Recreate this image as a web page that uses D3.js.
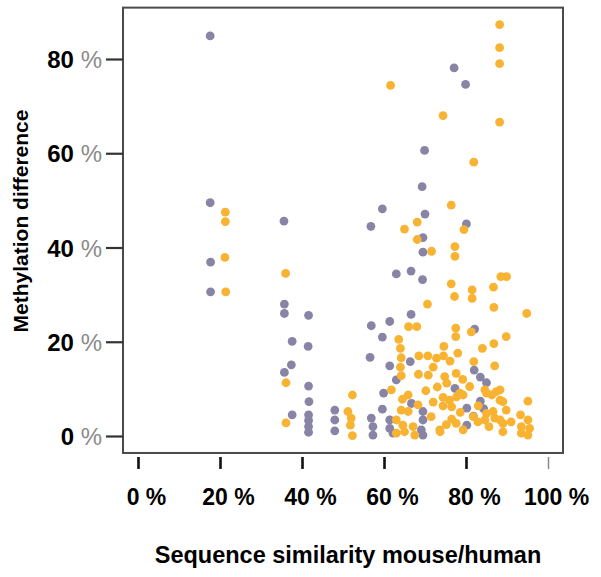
<!DOCTYPE html>
<html>
<head>
<meta charset="utf-8">
<script src="https://cdn.jsdelivr.net/npm/d3@7"></script>
<style>
  body { margin: 0; background: #fff; }
  svg { display: block; font-family: "Liberation Sans", Arial, sans-serif; }
</style>
</head>
<body>
<div id="chart"></div>
<script>
// values, [similarity %, methylation difference %]
const xTicks = [0, 20, 40, 60, 80, 100];
const yTicks = [0, 20, 40, 60, 80];

const grayPoints = [
  [17.6, 84.9], [17.6, 49.5], [17.7, 36.9], [17.7, 30.6],
  [35.6, 45.6], [35.7, 28.0], [35.7, 26.0], [41.6, 25.6], [37.6, 20.1], [41.5, 19.0],
  [37.4, 15.1], [35.7, 13.5], [41.6, 10.6], [41.7, 7.3], [37.6, 4.5],
  [41.6, 4.5], [41.6, 3.3], [41.6, 2.0], [41.6, 0.8],
  [48.0, 5.5], [48.0, 3.4], [48.0, 1.1],
  [56.9, 23.4], [61.4, 24.3], [59.6, 21.0], [56.6, 16.7],
  [63.0, 34.4], [66.6, 35.0], [69.4, 33.2], [66.6, 25.8], [69.5, 42.1], [69.5, 39.0],
  [77.1, 78.1], [79.9, 74.6], [69.9, 60.6], [69.3, 52.9], [59.6, 48.2], [70.0, 47.1],
  [56.8, 44.5], [80.1, 45.0], [82.1, 22.7],
  [61.4, 14.9], [66.4, 15.8], [63.0, 11.9], [59.9, 9.1], [66.7, 6.9], [59.6, 5.7],
  [69.5, 5.2], [56.9, 3.8], [57.3, 2.0], [57.3, 0.2], [61.4, 3.4], [61.4, 1.6],
  [62.2, 0.6], [69.5, 3.4], [69.1, 1.3], [69.5, 0.2],
  [77.3, 10.1], [80.2, 5.9], [83.5, 7.4], [80.2, 2.3], [81.8, 4.2],
  [82.0, 14.0], [83.5, 12.5], [85.0, 11.3], [84.3, 5.8]
];

const orangePoints = [
  [21.3, 47.5], [21.3, 45.5], [21.2, 37.9], [21.4, 30.6],
  [36.0, 34.5], [36.1, 11.3], [36.1, 2.8],
  [52.3, 8.7], [51.2, 5.2], [52.0, 3.8], [51.8, 2.3], [52.3, 0.1],
  [88.2, 87.3], [88.2, 82.4], [88.2, 79.0], [61.6, 74.4], [74.4, 68.0], [88.2, 66.6],
  [81.9, 58.1], [76.4, 49.0], [68.1, 45.4], [79.5, 43.8], [65.0, 43.9],
  [77.3, 40.2], [77.3, 38.1], [71.6, 39.2], [68.1, 41.7],
  [88.5, 33.8], [89.9, 33.8], [86.7, 31.6], [81.5, 31.0], [76.4, 32.3],
  [77.2, 29.6], [81.5, 29.2], [86.8, 27.3], [94.8, 26.0], [70.6, 28.0],
  [66.0, 23.2], [68.0, 23.2], [81.3, 22.1], [77.5, 22.9], [77.5, 21.1],
  [89.8, 21.1], [86.8, 19.6], [84.0, 18.6], [87.0, 14.9], [81.9, 15.8],
  [85.0, 9.1], [87.4, 9.4], [88.3, 7.6], [95.1, 7.4], [77.6, 13.3], [78.0, 17.6],
  [80.9, 10.5], [79.3, 8.7], [89.0, 7.3], [89.8, 5.5], [86.6, 5.2], [87.0, 3.8],
  [89.0, 2.7], [89.0, 0.9], [84.6, 3.4], [82.9, 3.0], [77.6, 2.7], [79.3, 1.3],
  [93.3, 4.5], [95.1, 3.4], [93.5, 2.0], [95.5, 1.6], [95.1, 0.2], [93.5, 0.6],
  [63.6, 20.5], [64.0, 18.6], [64.2, 16.6], [64.0, 14.6], [64.2, 12.8],
  [68.5, 17.0], [70.7, 17.0], [72.8, 16.5], [74.5, 17.0], [76.1, 15.9], [74.6, 19.0],
  [68.4, 13.1], [70.8, 12.9], [74.8, 12.6], [75.3, 11.2],
  [74.4, 8.2], [76.0, 7.6], [74.4, 6.4], [61.8, 9.8], [65.9, 8.7], [64.5, 7.8],
  [64.2, 5.5], [65.9, 5.2], [68.3, 6.6], [71.5, 4.1],
  [63.0, 3.4], [64.6, 2.3], [63.0, 0.6], [65.0, 0.9], [67.1, 2.0], [67.5, 0.2],
  [73.6, 1.3], [77.7, 8.3], [78.5, 9.1], [76.5, 6.2], [73.7, 0.9],
  [85.0, 4.8], [88.3, 3.4], [81.8, 4.1], [86.3, 8.7], [88.3, 9.8], [84.6, 9.8],
  [72.0, 14.6], [73.0, 10.4], [79.2, 12.0], [72.0, 7.2], [70.2, 9.6],
  [76.5, 3.6], [75.2, 2.4], [83.0, 6.4], [85.6, 2.0], [91.0, 3.0], [78.6, 5.0]
];

const width = 601, height = 577;

// tick positions measured on the picture
var x = d3.scaleLinear().domain([0, 100]).range([138, 548]);
var y = d3.scaleLinear().domain([0, 80]).range([436, 59]);

var svg = d3.select("#chart")
  .append("svg")
    .attr("width", width)
    .attr("height", height);

// plot frame
var frame = {x0: x(-3.66), x1: x(103.66), y0: y(90.9), y1: y(-3.6)};
svg.append("rect")
  .attr("x", frame.x0)
  .attr("y", frame.y0)
  .attr("width", frame.x1 - frame.x0)
  .attr("height", frame.y1 - frame.y0)
  .attr("fill", "#fff")
  .attr("stroke", "#4a4a4a")
  .attr("stroke-width", 2);

// y axis
var yAxis = svg.append("g")
  .attr("transform", "translate(" + frame.x0 + ",0)")
  .call(d3.axisLeft(y).tickValues(yTicks).tickSize(17).tickFormat(d => d));
yAxis.select(".domain").remove();
yAxis.selectAll(".tick line").attr("stroke", "#333").attr("stroke-width", 2.2);
yAxis.selectAll(".tick text")
  .attr("x", -21)
  .attr("dy", "0.36em")
  .attr("fill", "#000")
  .style("font-size", "24px")
  .style("font-weight", "bold")
  .text(null)
  .each(function(d) {
    var t = d3.select(this);
    t.append("tspan").text(d + " ");
    t.append("tspan").attr("fill", "#8a8a8a").style("font-weight", "normal").text("%");
  });

// x axis (ticks sit a little below the frame)
var xAxis = svg.append("g")
  .attr("transform", "translate(0," + (frame.y1 + 4) + ")")
  .call(d3.axisBottom(x).tickValues(xTicks).tickSize(12).tickFormat(d => d + " %"));
xAxis.select(".domain").remove();
xAxis.selectAll(".tick line")
  .attr("stroke", d => d === 100 ? "#8a8a8a" : "#111")
  .attr("stroke-width", d => d === 100 ? 1.5 : 2.6);
xAxis.selectAll(".tick text")
  .attr("x", 8)
  .attr("y", 48)
  .attr("dy", null)
  .attr("fill", "#000")
  .style("font-size", "23px")
  .style("font-weight", "bold");

// points
svg.append("g")
  .selectAll("circle")
  .data(grayPoints)
  .join("circle")
    .attr("cx", d => x(d[0]))
    .attr("cy", d => y(d[1]))
    .attr("r", 4.4)
    .attr("fill", "#8784a6");

svg.append("g")
  .selectAll("circle")
  .data(orangePoints)
  .join("circle")
    .attr("cx", d => x(d[0]))
    .attr("cy", d => y(d[1]))
    .attr("r", 4.4)
    .attr("fill", "#f8b332");

// axis titles
svg.append("text")
  .attr("x", 348)
  .attr("y", 563)
  .attr("text-anchor", "middle")
  .style("font-size", "23.5px")
  .style("font-weight", "bold")
  .attr("fill", "#000")
  .text("Sequence similarity mouse/human");

svg.append("text")
  .attr("transform", "translate(28,221) rotate(-90)")
  .attr("text-anchor", "middle")
  .style("font-size", "21px")
  .style("font-weight", "bold")
  .attr("fill", "#000")
  .text("Methylation difference");
</script>
</body>
</html>
